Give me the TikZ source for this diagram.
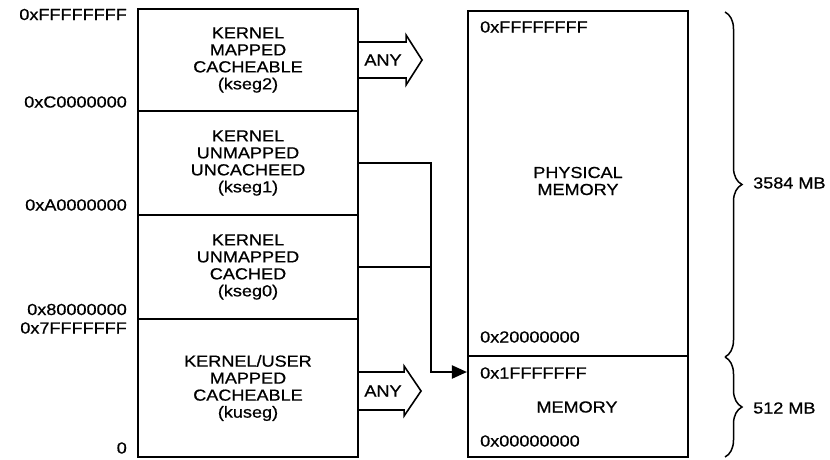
\documentclass[tikz,border=0pt]{standalone}
\usepackage{fontspec}
\setmainfont{Liberation Sans}[FakeStretch=1.13,FakeBold=0.7]
\usetikzlibrary{arrows.meta,decorations.pathreplacing,calc}
\begin{document}
\begin{tikzpicture}[x=1pt,y=-1pt,
  every node/.style={font=\fontsize{16}{17}\selectfont, inner sep=0pt},
  seg/.style={draw, line width=2.1pt, minimum width=220pt, align=center},
  addr/.style={anchor=east},
  paddr/.style={anchor=west},
  conn/.style={line width=2.1pt},
  fat/.style={line width=1.6pt, line join=miter},
  brc/.style={decorate, decoration={brace, amplitude=17pt}, line width=1.5pt}]
\useasboundingbox (0,0) rectangle (830,459);

% virtual segments
\node[seg, minimum height=102pt] (k2) at (248,60) {KERNEL\\MAPPED\\CACHEABLE\\(kseg2)};
\node[seg, minimum height=104pt] (k1) at (248,163) {KERNEL\\UNMAPPED\\UNCACHEED\\(kseg1)};
\node[seg, minimum height=104pt] (k0) at (248,267) {KERNEL\\UNMAPPED\\CACHED\\(kseg0)};
\node[seg, minimum height=138pt] (ku) at (248,388) {KERNEL/USER\\MAPPED\\CACHEABLE\\(kuseg)};

% virtual addresses
\node[addr] (a1) at (127,14.5) {0xFFFFFFFF};
\node[addr] (a2) at (127,102) {0xC0000000};
\node[addr] (a3) at (127,205) {0xA0000000};
\node[addr] (a4) at (127,309.5) {0x80000000};
\node[addr] (a5) at (127,328) {0x7FFFFFFF};
\node[addr] (a6) at (127,448) {0};

% physical memory
\node[seg, minimum height=345pt] (phys) at (578,183.5) {};
\node[seg, minimum height=101pt] (mem) at (578,406.5) {};
\node (physt) at (578,181) [align=center] {PHYSICAL\\MEMORY};
\node (memt) at (577,407) {MEMORY};
\node[paddr] (p1) at (480,27) {0xFFFFFFFF};
\node[paddr] (p2) at (480,337) {0x20000000};
\node[paddr] (p3) at (480,373) {0x1FFFFFFF};
\node[paddr] (p4) at (480,441) {0x00000000};

% ANY arrows
\draw[fat] ($(k2.east)+(0,-18)$) -- ++(47,0) -- ++(0,-7) -- ($(k2.east)+(63,0)$)
  -- ($(k2.east)+(47,25)$) -- ++(0,-7) -- ($(k2.east)+(0,18)$);
\node (any1) at (383,60) {ANY};
\draw[fat] ($(ku.east)+(0,-16)$) -- ++(45,0) -- ++(0,-6) -- ($(ku.east)+(62,3)$)
  -- ($(ku.east)+(45,28)$) -- ++(0,-6) -- ($(ku.east)+(0,22)$);
\node (any2) at (383,391) {ANY};

% unmapped connectors
\coordinate (jn) at (431,372);
\draw[conn, -{Triangle[length=15pt,width=13pt]}] (k1.east) -| (jn) -- (jn -| mem.west);
\draw[conn] (k0.east) -- (k0.east -| jn);

% braces
\coordinate (b1) at (725,12);
\coordinate (b2) at (725,357);
\coordinate (b3) at (725,457);
\draw[brc] (b1) -- (b2);
\draw[brc] (b2) -- (b3);
\node[anchor=west] (s1) at (753,183) {3584 MB};
\node[anchor=west] (s2) at (753,408) {512 MB};
\end{tikzpicture}
\end{document}
